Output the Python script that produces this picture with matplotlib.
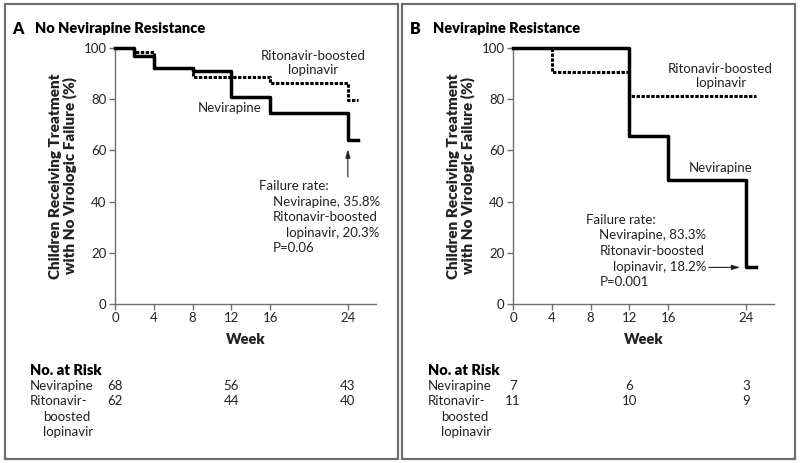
import matplotlib.pyplot as plt
from matplotlib.patches import Rectangle

plt.rcParams['font.family'] = ['Lato', 'DejaVu Sans']

# Panel A: no nevirapine resistance
a_nvp_wk = [0, 2, 4, 8, 12, 16, 24, 25]
a_nvp_pct = [100, 97, 92, 91, 81, 74.6, 64, 64]
a_lpv_wk = [0, 2, 4, 8, 16, 24, 25]
a_lpv_pct = [100, 98.4, 92.3, 88.5, 86.3, 79.8, 79.8]

# Panel B: nevirapine resistance
b_nvp_wk = [0, 12, 16, 24, 25]
b_nvp_pct = [100, 65.7, 48.4, 14.3, 14.3]
b_lpv_wk = [0, 4, 12, 25]
b_lpv_pct = [100, 90.8, 81.2, 81.2]

risk_weeks = [0, 12, 24]
a_risk_nvp = [68, 56, 43]
a_risk_lpv = [62, 44, 40]
b_risk_nvp = [7, 6, 3]
b_risk_lpv = [11, 10, 9]

xticks = [0, 4, 8, 12, 16, 24]
yticks = [0, 20, 40, 60, 80, 100]

fig = plt.figure(figsize=(8, 4.63), dpi=100)
grey = '#6e6e6e'
fs = 9.5

# panel frames
for x0 in [5 / 800, 402 / 800]:
    fig.patches.append(Rectangle((x0, 1 - 459 / 463), 393 / 800, 455 / 463,
                                 transform=fig.transFigure, fill=False,
                                 edgecolor=grey, lw=1.6))


def panel(left, letter, title, nvp_wk, nvp_pct, lpv_wk, lpv_pct,
          risk_nvp, risk_lpv):
    ax = fig.add_axes([left, 1 - 304 / 463, 261 / 800, 256 / 463])
    ax.step(nvp_wk, nvp_pct, where='post', color='black', lw=2.5,
            clip_on=False, zorder=3)
    ax.step(lpv_wk, lpv_pct, where='post', color='black', lw=2.2,
            ls=(0, (1.1, 0.5)), clip_on=False, zorder=4)
    ax.set_xlim(0, 26.9)
    ax.set_ylim(0, 100)
    ax.set_xticks(xticks)
    ax.set_yticks(yticks)
    for s in ['top', 'right']:
        ax.spines[s].set_visible(False)
    for s in ['left', 'bottom']:
        ax.spines[s].set_color(grey)
        ax.spines[s].set_linewidth(1.0)
    ax.tick_params(colors=grey, labelcolor='#222222', labelsize=fs,
                   length=4, width=1.0, pad=2)
    ax.set_xlabel('Week', fontsize=fs + 1, fontweight='heavy',
                  color='#222222', labelpad=6)
    ax.set_ylabel('Children Receiving Treatment\nwith No Virologic Failure (%)',
                  fontsize=fs + 1.5, fontweight='heavy', color='#222222',
                  labelpad=5, linespacing=1.05)
    ax.text(-0.395, 1.075, letter, transform=ax.transAxes, fontsize=fs + 2,
            fontweight='heavy', va='center')
    ax.text(-0.305, 1.075, title, transform=ax.transAxes, fontsize=fs + 1,
            fontweight='heavy', va='center')

    tr = ax.get_xaxis_transform()
    lx = -0.325
    ax.text(lx, -0.258, 'No. at Risk', transform=ax.transAxes,
            fontsize=fs + 1, fontweight='heavy', va='center')
    ax.text(lx, -0.32, 'Nevirapine', transform=ax.transAxes, fontsize=fs,
            va='center', color='#222222')
    ax.text(lx, -0.379, 'Ritonavir-', transform=ax.transAxes, fontsize=fs,
            va='center', color='#222222')
    ax.text(lx + 0.05, -0.441, 'boosted', transform=ax.transAxes,
            fontsize=fs, va='center', color='#222222')
    ax.text(lx + 0.05, -0.5, 'lopinavir', transform=ax.transAxes,
            fontsize=fs, va='center', color='#222222')
    for wk, n1, n2 in zip(risk_weeks, risk_nvp, risk_lpv):
        ax.text(wk, -0.32, str(n1), transform=tr, ha='center', va='center',
                fontsize=fs, color='#222222')
        ax.text(wk, -0.379, str(n2), transform=tr, ha='center', va='center',
                fontsize=fs, color='#222222')
    return ax


axA = panel(115 / 800, 'A', 'No Nevirapine Resistance', a_nvp_wk, a_nvp_pct,
            a_lpv_wk, a_lpv_pct, a_risk_nvp, a_risk_lpv)
axB = panel(513 / 800, 'B', 'Nevirapine Resistance', b_nvp_wk, b_nvp_pct,
            b_lpv_wk, b_lpv_pct, b_risk_nvp, b_risk_lpv)

kw = dict(fontsize=fs, color='#222222')

# panel A annotations
axA.text(20.4, 94.2, 'Ritonavir-boosted\nlopinavir', ha='center', va='center',
         linespacing=1.15, **kw)
axA.text(11.8, 76.5, 'Nevirapine', ha='center', va='center', **kw)
axA.annotate('', xy=(24, 61.5), xytext=(24, 48.5),
             arrowprops=dict(arrowstyle='-|>,head_width=0.15,head_length=0.5',
                             color='#222222', lw=0.8))
axA.text(14.8, 46, 'Failure rate:', va='center', **kw)
axA.text(16.3, 40, 'Nevirapine, 35.8%', va='center', **kw)
axA.text(16.3, 34, 'Ritonavir-boosted', va='center', **kw)
axA.text(17.6, 27.9, 'lopinavir, 20.3%', va='center', **kw)
axA.text(16.3, 21.8, 'P=0.06', va='center', **kw)

# panel B annotations
axB.text(21.4, 89, 'Ritonavir-boosted\nlopinavir', ha='center', va='center',
         linespacing=1.15, **kw)
axB.text(21.4, 53, 'Nevirapine', ha='center', va='center', **kw)
axB.text(7.5, 33, 'Failure rate:', va='center', **kw)
axB.text(8.9, 27, 'Nevirapine, 83.3%', va='center', **kw)
axB.text(8.9, 20.8, 'Ritonavir-boosted', va='center', **kw)
axB.text(10.3, 14.5, 'lopinavir, 18.2%', va='center', **kw)
axB.text(8.9, 8.6, 'P=0.001', va='center', **kw)
axB.annotate('', xy=(23.7, 14.3), xytext=(19.9, 14.3),
             arrowprops=dict(arrowstyle='-|>,head_width=0.15,head_length=0.5',
                             color='#222222', lw=0.8))

fig.savefig('out.png', dpi=100)
